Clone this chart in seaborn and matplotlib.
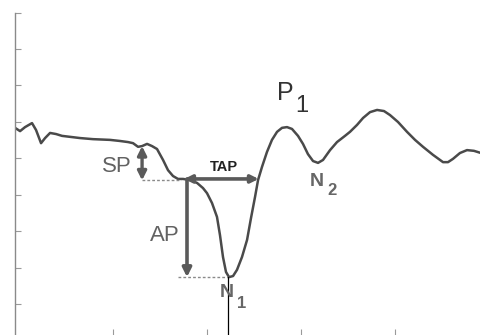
import numpy as np
import pandas as pd
import matplotlib
matplotlib.use("Agg")
import matplotlib.pyplot as plt
import seaborn as sns

# -------------------- data --------------------
# time (ms) and amplitude (a.u.) of the evoked waveform
time_ms = [
    -0.43, 0.11, 0.64, 1.38, 1.81, 2.34, 2.77, 3.30, 3.94, 4.57,
    6.49, 7.87, 9.68, 10.74, 11.60, 12.13, 12.66, 13.09, 13.62, 14.15,
    14.68, 15.32, 15.85, 16.38, 16.91, 17.45, 18.19, 18.94, 19.57, 20.00,
    20.53, 21.06, 21.38, 21.70, 22.02, 22.34, 22.77, 23.19, 23.72, 24.26,
    24.68, 25.11, 25.43, 25.85, 26.38, 26.91, 27.45, 27.98, 28.51, 29.04,
    29.68, 30.21, 30.74, 31.28, 31.81, 32.34, 33.09, 33.83, 34.68, 35.21,
    35.96, 36.60, 37.34, 38.09, 38.83, 39.47, 40.32, 41.28, 42.13, 42.98,
    44.04, 45.11, 45.64, 46.17, 46.91, 47.66, 48.40, 49.15,
]
amplitude = [
    5.84, 5.75, 5.86, 5.97, 5.78, 5.42, 5.56, 5.70, 5.67, 5.62,
    5.56, 5.53, 5.51, 5.48, 5.45, 5.42, 5.32, 5.34, 5.40, 5.34,
    5.26, 4.96, 4.68, 4.52, 4.44, 4.44, 4.41, 4.33, 4.19, 4.05,
    3.78, 3.40, 2.90, 2.30, 1.89, 1.75, 1.78, 1.95, 2.30, 2.77,
    3.37, 3.95, 4.41, 4.77, 5.18, 5.51, 5.73, 5.84, 5.86, 5.81,
    5.62, 5.40, 5.12, 4.93, 4.88, 4.96, 5.23, 5.45, 5.62, 5.73,
    5.92, 6.11, 6.27, 6.33, 6.30, 6.19, 6.00, 5.73, 5.51, 5.32,
    5.10, 4.90, 4.90, 4.99, 5.15, 5.23, 5.21, 5.15,
]

x_ticks = [10, 20, 30, 40]
y_ticks = [1, 2, 3, 4, 5, 6, 7, 8, 9]

# landmarks
sp_top, sp_bottom, sp_time = 5.34, 4.40, 13.09
ap_time, ap_level, n1_time, n1_level = 17.87, 4.44, 22.23, 1.75
tap_end = 25.5

df = pd.DataFrame({"time": time_ms, "amp": amplitude})

# -------------------- figure --------------------
sns.set_style("white")
plt.rcParams["font.family"] = ["Liberation Sans", "DejaVu Sans"]

fig = plt.figure(figsize=(4.81, 3.35), dpi=100)
ax = fig.add_axes([15 / 481, 0.5 / 335, 466 / 481, 322 / 335])

sns.lineplot(data=df, x="time", y="amp", sort=False, estimator=None,
             color="#4a4a4a", linewidth=1.8, ax=ax,
             solid_joinstyle="round", solid_capstyle="round")

ax.set_xlim(-0.43, 49.15)
ax.set_ylim(0.178, 9)
ax.set_xticks(x_ticks)
ax.set_yticks(y_ticks)
ax.set_xticklabels([])
ax.set_yticklabels([])
ax.set_xlabel("")
ax.set_ylabel("")
ax.tick_params(direction="in", length=4, width=0.8, color="#9a9a9a",
               left=True, bottom=True)
for side in ["top", "right", "bottom"]:
    ax.spines[side].set_visible(False)
ax.spines["left"].set_color("#8a8a8a")
ax.spines["left"].set_linewidth(1.0)

arrow_col = "#5a5a5a"

# dashed reference levels
ax.plot([sp_time, ap_time - 0.6], [sp_bottom, sp_bottom], ls=(0, (2, 1.5)),
        color="#8a8a8a", lw=1.0)
ax.plot([ap_time - 1.0, n1_time], [n1_level, n1_level], ls=(0, (2, 1.5)),
        color="#8a8a8a", lw=1.0)

# SP
ax.annotate("", xy=(sp_time, sp_bottom), xytext=(sp_time, sp_top),
            arrowprops=dict(arrowstyle="<|-|>", color=arrow_col, lw=2.4,
                            mutation_scale=13, shrinkA=0, shrinkB=0))
# AP
ax.annotate("", xy=(ap_time, n1_level), xytext=(ap_time, ap_level),
            arrowprops=dict(arrowstyle="-|>", color=arrow_col, lw=2.6,
                            mutation_scale=13, shrinkA=0, shrinkB=0))
# TAP
ax.annotate("", xy=(tap_end, ap_level), xytext=(ap_time - 0.3, ap_level),
            arrowprops=dict(arrowstyle="<|-|>", color=arrow_col, lw=2.6,
                            mutation_scale=11, shrinkA=0, shrinkB=0))

# N1 marker line
ax.plot([n1_time, n1_time], [0.178, n1_level], color="black", lw=0.9)

# labels
ax.text(10.4, 4.77, "SP", fontsize=16, color="#626262", ha="center", va="center")
ax.text(15.5, 2.88, "AP", fontsize=16, color="#626262", ha="center", va="center")
ax.text(21.8, 4.77, "TAP", fontsize=10.5, fontweight="bold", color="#222222",
        ha="center", va="center")
ax.text(28.3, 6.79, "P", fontsize=18, color="#333333", ha="center", va="center")
ax.text(30.1, 6.44, "1", fontsize=17, color="#333333", ha="center", va="center")
ax.text(31.7, 4.38, "N", fontsize=14, fontweight="bold", color="#666666",
        ha="center", va="center")
ax.text(33.3, 4.11, "2", fontsize=12, fontweight="bold", color="#666666",
        ha="center", va="center")
ax.text(22.1, 1.32, "N", fontsize=14, fontweight="bold", color="#666666",
        ha="center", va="center")
ax.text(23.7, 1.04, "1", fontsize=12, fontweight="bold", color="#666666",
        ha="center", va="center")

plt.savefig("out.png", dpi=100)
plt.close()
